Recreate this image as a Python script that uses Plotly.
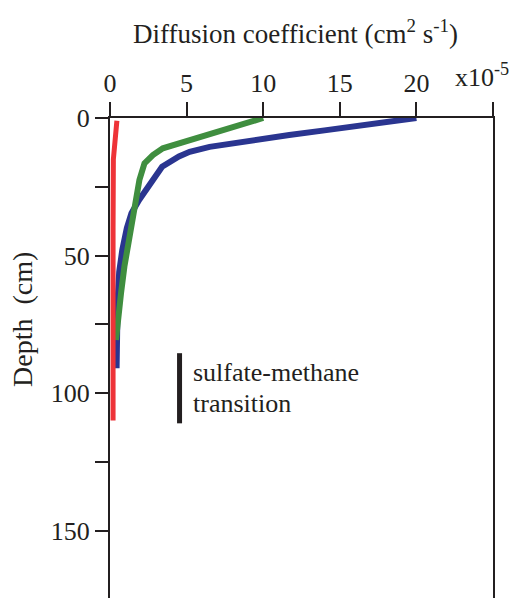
import plotly.graph_objects as go

# Diffusion coefficient (x10^-5 cm2 s-1) vs depth (cm)
blue_x = [20.0, 17.0, 14.0, 11.7, 8.5, 6.5, 5.2, 4.5, 3.4, 2.6, 1.9, 1.4, 1.1, 0.8, 0.6, 0.5, 0.4, 0.43]
blue_y = [0, 2.5, 4.5, 6.2, 8.6, 10.5, 12.3, 14, 17.7, 23.7, 29.8, 34.6, 40, 48, 56, 66, 84, 91]

green_x = [10.0, 7.4, 6.3, 4.75, 3.45, 2.8, 2.25, 1.92, 1.6, 1.26, 0.94, 0.72, 0.39]
green_y = [0, 4.4, 6.2, 8.6, 11, 13.5, 16.5, 22.5, 32.3, 44.4, 54, 63.7, 80.7]

red_x = [0.45, 0.35, 0.22, 0.2, 0.2, 0.2]
red_y = [1, 7, 15, 40, 70, 110]

smt_x = [4.54, 4.54]
smt_y = [85.5, 111]

x_ticks = [0, 5, 10, 15, 20]
x_minor_ticks = [25]
y_ticks = [0, 50, 100, 150]
y_minor_ticks = [25, 75, 125]

FONT = "Liberation Serif"
FS = 26
INK = "#231F20"

fig = go.Figure()
fig.add_trace(go.Scatter(x=blue_x, y=blue_y, mode="lines", line=dict(color="#2A3590", width=6)))
fig.add_trace(go.Scatter(x=green_x, y=green_y, mode="lines", line=dict(color="#3F8E3F", width=6)))
fig.add_trace(go.Scatter(x=red_x, y=red_y, mode="lines", line=dict(color="#EE3338", width=5)))
fig.add_trace(go.Scatter(x=smt_x, y=smt_y, mode="lines", line=dict(color=INK, width=5)))

fig.update_layout(
    width=511, height=598,
    margin=dict(l=110, r=18, t=118, b=0),
    paper_bgcolor="white", plot_bgcolor="white",
    showlegend=False,
    font=dict(family=FONT, size=FS, color=INK),
    xaxis=dict(
        side="top", range=[0, 25], tickvals=x_ticks,
        ticks="outside", ticklen=14, tickwidth=2, tickcolor=INK,
        minor=dict(tickvals=x_minor_ticks, ticks="outside", ticklen=14, tickwidth=2,
                   tickcolor=INK, showgrid=False),
        showline=True, linewidth=2, linecolor=INK, showgrid=False, zeroline=False,
        tickfont=dict(family=FONT, size=FS),
    ),
    yaxis=dict(
        range=[174.5, 0], tickvals=y_ticks,
        ticks="outside", ticklen=13, tickwidth=2, tickcolor=INK,
        minor=dict(tickvals=y_minor_ticks, ticks="outside", ticklen=13, tickwidth=2,
                   tickcolor=INK, showgrid=False),
        showline=True, linewidth=2, linecolor=INK, mirror=True,
        showgrid=False, zeroline=False,
        tickfont=dict(family=FONT, size=FS),
    ),
    annotations=[
        dict(text="Diffusion coefficient (cm<sup>2</sup> s<sup>-1</sup>)", xref="paper", yref="paper",
             x=(295 - 110) / 383, y=1 + (118 - 32) / 480, xanchor="center", yanchor="middle",
             showarrow=False, font=dict(family=FONT, size=27)),
        dict(text="x10<sup>-5</sup>", xref="paper", yref="paper",
             x=(453 - 110) / 383, y=1 + (118 - 75) / 480, xanchor="left", yanchor="middle",
             showarrow=False, font=dict(family=FONT, size=FS)),
        dict(text="Depth  (cm)", xref="paper", yref="paper", textangle=-90,
             x=(22 - 110) / 383, y=1 - (320 - 118) / 480, xanchor="center", yanchor="middle",
             showarrow=False, font=dict(family=FONT, size=28)),
        dict(text="sulfate-methane", xref="x", yref="y", x=5.3, y=(372 - 118) / 2.75,
             xanchor="left", yanchor="middle", align="left", showarrow=False,
             font=dict(family=FONT, size=FS)),
        dict(text="transition", xref="x", yref="y", x=5.3, y=(403 - 118) / 2.75,
             xanchor="left", yanchor="middle", align="left", showarrow=False,
             font=dict(family=FONT, size=FS)),
    ],
)

fig.write_html("out.html")
